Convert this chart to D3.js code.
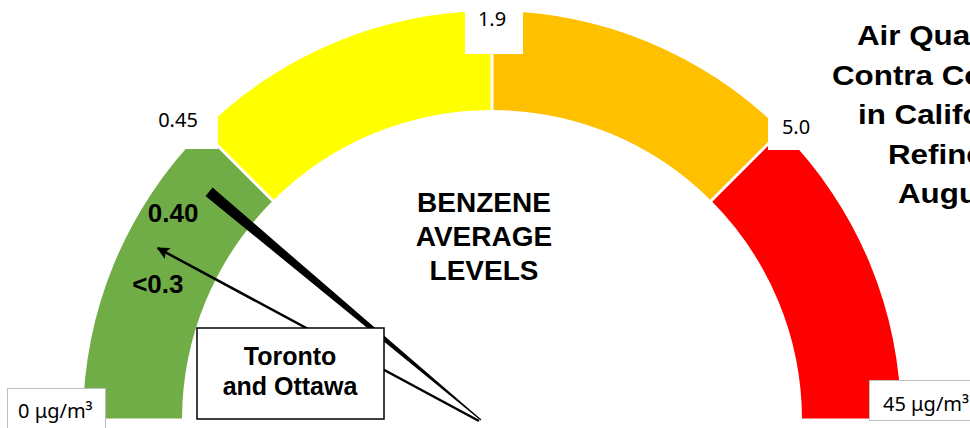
<!DOCTYPE html>
<html>
<head>
<meta charset="utf-8">
<script src="https://cdn.jsdelivr.net/npm/d3@7"></script>
<style>
  html, body { margin: 0; padding: 0; background: #fff; }
  svg { display: block; }
</style>
</head>
<body>
<svg id="chart" width="970" height="428"></svg>
<script>
// ---------- data ----------
const thresholds   = [0, 0.45, 1.9, 5.0, 45];          // μg/m³ at band edges
const bandNames    = ["Low", "Moderate", "High", "Very high"];
const bandColors   = ["#70AD47", "#FFFF00", "#FFC000", "#FF0000"];
const tickLabels   = ["0.45", "1.9", "5.0"];
const endLabels    = ["0 μg/m³", "45 μg/m³"];
const needleNames  = ["Contra Costa", "Toronto and Ottawa"];
const needleValues = [0.40, 0.28];
const needleLabels = ["0.40", "<0.3"];
const centerTitle  = ["BENZENE", "AVERAGE", "LEVELS"];
const mainTitle    = ["Air Quality in", "Contra Costa Co.", "in California,", "Refinery", "August"];

// ---------- layout ----------
const svg = d3.select("#chart");
const cx = 492, cy = 420, rOuter = 409, rInner = 310;
const pivot = { x: cx - 11, y: cy };

const angle = d3.scaleLinear()
  .domain(thresholds)
  .range([-90, -45, 0, 45, 90].map(d => d * Math.PI / 180));

const bands = bandNames.map((n, i) => ({
  name: n, color: bandColors[i],
  startAngle: angle(thresholds[i]), endAngle: angle(thresholds[i + 1])
}));

const arc = d3.arc()
  .innerRadius(rInner).outerRadius(rOuter)
  .padAngle(3 / rOuter).padRadius(rOuter);

const g = svg.append("g").attr("transform", `translate(${cx},${cy})`);
g.selectAll("path.band").data(bands).join("path")
  .attr("class", "band")
  .attr("d", arc)
  .attr("fill", d => d.color);

// white label boxes at the band boundaries (cover the arc like the original labels)
const tickBoxes = [
  { x: 140, y: 96,  w: 78, h: 53, tx: 178, ty: 127 },
  { x: 465, y: -4,  w: 58, h: 58, tx: 492, ty: 26 },
  { x: 768, y: 100, w: 58, h: 50, tx: 796, ty: 134 }
];
svg.selectAll("rect.tickbox").data(tickLabels).join("rect")
  .attr("class", "tickbox")
  .attr("x", (d, i) => tickBoxes[i].x).attr("y", (d, i) => tickBoxes[i].y)
  .attr("width", (d, i) => tickBoxes[i].w).attr("height", (d, i) => tickBoxes[i].h)
  .attr("fill", "#fff");
svg.selectAll("text.tick").data(tickLabels).join("text")
  .attr("class", "tick")
  .attr("x", (d, i) => tickBoxes[i].tx).attr("y", (d, i) => tickBoxes[i].ty)
  .attr("text-anchor", "middle")
  .attr("font-family", "'Noto Sans', 'Open Sans', sans-serif")
  .attr("font-size", 20)
  .attr("fill", "#000")
  .text(d => d);

// ---------- needles ----------
function polar(p, a, r) { return [p.x + r * Math.sin(a), p.y - r * Math.cos(a)]; }

// thick tapered needle (value 0.40)
{
  const a = angle(needleValues[0]);
  const L = 355, hw = 5.5;
  const [ex, ey] = polar(pivot, a, L);
  const nx = Math.cos(a), ny = Math.sin(a); // perpendicular
  const pts = [[pivot.x + 0.5 * nx, pivot.y + 0.5 * ny], [ex + hw * nx, ey + hw * ny], [ex - hw * nx, ey - hw * ny], [pivot.x - 0.5 * nx, pivot.y - 0.5 * ny]];
  svg.append("path")
    .attr("d", d3.line()(pts) + "Z")
    .attr("fill", "#000");
  svg.append("text")
    .attr("x", ex - 36).attr("y", ey + 30)
    .attr("text-anchor", "middle")
    .attr("font-family", "'Liberation Sans', Arial, sans-serif")
    .attr("font-weight", "bold").attr("font-size", 26)
    .text(needleLabels[0]);
}

// thin arrow (value <0.3)
svg.append("defs").append("marker")
  .attr("id", "arrow").attr("viewBox", "0 0 10 10")
  .attr("refX", 9).attr("refY", 5)
  .attr("markerWidth", 5.5).attr("markerHeight", 5)
  .attr("orient", "auto")
  .append("path").attr("d", "M0,0 L10,5 L0,10 L2,5 Z").attr("fill", "#000");
{
  const a = angle(needleValues[1]);
  const L = 366;
  const [ex, ey] = polar(pivot, a, L);
  svg.append("line")
    .attr("x1", pivot.x - 2).attr("y1", pivot.y + 1)
    .attr("x2", ex).attr("y2", ey)
    .attr("stroke", "#000").attr("stroke-width", 2.5)
    .attr("marker-end", "url(#arrow)");
  svg.append("text")
    .attr("x", ex).attr("y", ey + 45)
    .attr("text-anchor", "middle")
    .attr("font-family", "'Liberation Sans', Arial, sans-serif")
    .attr("font-weight", "bold").attr("font-size", 26)
    .text(needleLabels[1]);
}

// callout box
svg.append("rect")
  .attr("x", 197).attr("y", 328).attr("width", 187).attr("height", 91)
  .attr("fill", "#fff").attr("stroke", "#000").attr("stroke-width", 1.5);
svg.append("text")
  .attr("x", 290).attr("y", 365)
  .attr("text-anchor", "middle")
  .attr("font-family", "'Liberation Sans', Arial, sans-serif")
  .attr("font-weight", "bold").attr("font-size", 25)
  .selectAll("tspan").data(["Toronto", "and Ottawa"]).join("tspan")
  .attr("x", 290).attr("dy", (d, i) => i ? 30 : 0)
  .text(d => d);

// center title
svg.append("text")
  .attr("x", 484).attr("y", 212)
  .attr("text-anchor", "middle")
  .attr("font-family", "'Liberation Sans', Arial, sans-serif")
  .attr("font-weight", "bold").attr("font-size", 28)
  .selectAll("tspan").data(centerTitle).join("tspan")
  .attr("x", 484).attr("dy", (d, i) => i ? 34 : 0)
  .text(d => d);

// main title (right side, runs past the page edge as in the original)
const titleStarts = [857, 832, 858, 888, 898];
svg.selectAll("text.title").data(mainTitle).join("text")
  .attr("class", "title")
  .attr("transform", (d, i) => `translate(${titleStarts[i]},${45 + i * 39.5}) scale(1.1,1)`)
  .attr("font-family", "'Liberation Sans', Arial, sans-serif")
  .attr("font-weight", "bold").attr("font-size", 28.5)
  .text(d => d);

// end labels with grey-bordered boxes
const endBoxes = [
  { x: 7.5, y: 388.5, w: 98, h: 50, tx: 18, ty: 418 },
  { x: 869.5, y: 380.5, w: 120, h: 40, tx: 883, ty: 411 }
];
svg.selectAll("rect.endbox").data(endLabels).join("rect")
  .attr("class", "endbox")
  .attr("x", (d, i) => endBoxes[i].x).attr("y", (d, i) => endBoxes[i].y)
  .attr("width", (d, i) => endBoxes[i].w).attr("height", (d, i) => endBoxes[i].h)
  .attr("fill", "#fff").attr("stroke", "#bfbfbf").attr("stroke-width", 1);
svg.selectAll("text.endlabel").data(endLabels).join("text")
  .attr("class", "endlabel")
  .attr("x", (d, i) => endBoxes[i].tx).attr("y", (d, i) => endBoxes[i].ty)
  .attr("font-family", "'Noto Sans', 'Open Sans', sans-serif")
  .attr("font-size", 20)
  .text(d => d);
</script>
</body>
</html>
